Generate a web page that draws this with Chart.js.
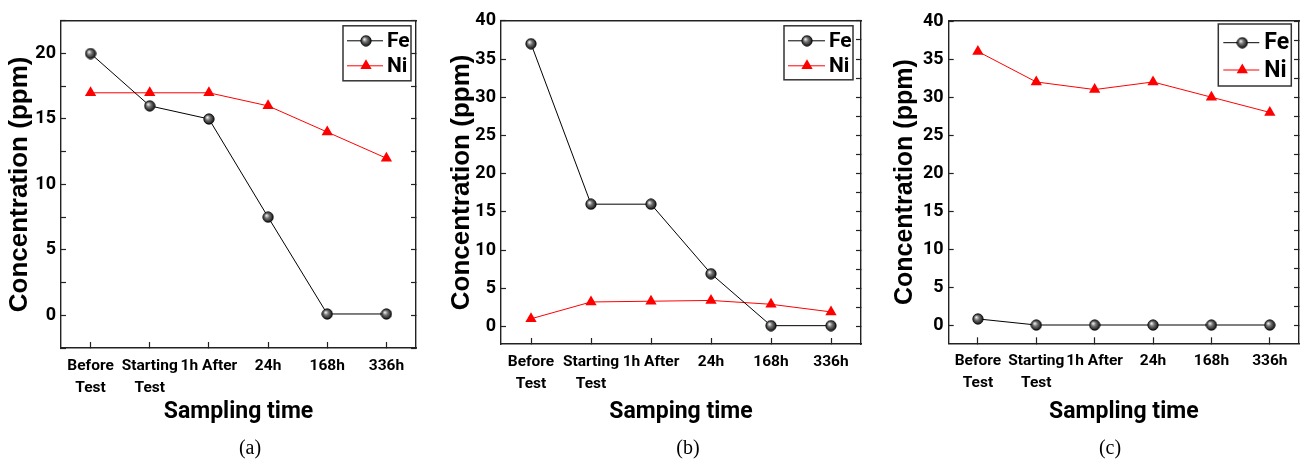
<!DOCTYPE html>
<html>
<head>
<meta charset="utf-8">
<script src="https://cdn.jsdelivr.net/npm/chart.js@4.4.1/dist/chart.umd.min.js"></script>
<style>
  body { margin: 0; background: #fff; width: 1306px; height: 461px; position: relative; overflow: hidden; }
  canvas { position: absolute; top: 0; }
  .cap { position: absolute; top: 435px; width: 60px; margin-left: -30px; text-align: center;
         font: 20px 'Liberation Serif', 'Times New Roman', serif; line-height: 24px; color: #000; }
</style>
</head>
<body>
<canvas id="panelA" width="430" height="461" style="left:0px"></canvas>
<canvas id="panelB" width="430" height="461" style="left:440px"></canvas>
<canvas id="panelC" width="426" height="461" style="left:880px"></canvas>
<div class="cap" id="capA" style="left:250px"></div>
<div class="cap" id="capB" style="left:688px"></div>
<div class="cap" id="capC" style="left:1110px"></div>
<script>
const NARROW = "Roboto, 'Liberation Sans', sans-serif";
const WIDE = "'Liberation Sans', Arial, sans-serif";

// data
const categories = [['Before', 'Test'], ['Starting', 'Test'], '1h After', '24h', '168h', '336h'];
const seriesNames = ['Fe', 'Ni'];
const feA = [20, 16, 15, 7.5, 0.1, 0.1];
const niA = [17, 17, 17, 16, 14, 12];
const feB = [37, 16, 16, 6.9, 0.1, 0.1];
const niB = [1.0, 3.2, 3.3, 3.4, 2.9, 1.9];
const feC = [0.9, 0.1, 0.1, 0.1, 0.1, 0.1];
const niC = [36, 32, 31, 32, 30, 28];
const yTicksA = [-2.5, 0, 2.5, 5, 7.5, 10, 12.5, 15, 17.5, 20, 22.5];
const yTicks40 = [0, 2.5, 5, 7.5, 10, 12.5, 15, 17.5, 20, 22.5, 25, 27.5, 30, 32.5, 35, 37.5, 40];
const yTitle = 'Concentration (ppm)';
const xTitles = ['Sampling time', 'Samping time', 'Sampling time'];
const captions = ['(a)', '(b)', '(c)'];

// shaded sphere used as the Fe marker
const sphere = document.createElement('canvas');
sphere.width = 12; sphere.height = 12;
(function () {
  const g = sphere.getContext('2d');
  const grad = g.createRadialGradient(4.3, 4.3, 0.3, 6, 6, 6);
  grad.addColorStop(0, '#f0f0f0');
  grad.addColorStop(0.35, '#777');
  grad.addColorStop(1, '#000');
  g.beginPath();
  g.arc(6, 6, 5.2, 0, Math.PI * 2);
  g.fillStyle = grad;
  g.fill();
  g.lineWidth = 0.8;
  g.strokeStyle = '#000';
  g.stroke();
})();

// boxed legend inside the plot, top right
const boxLegend = {
  id: 'boxLegend',
  afterDatasetsDraw(chart, args, o) {
    const { ctx, chartArea } = chart;
    const x0 = chartArea.right - o.right - o.width;
    const y0 = chartArea.top + o.top;
    ctx.save();
    ctx.fillStyle = '#fff';
    ctx.fillRect(x0, y0, o.width, o.height);
    ctx.lineWidth = 1.5;
    ctx.strokeStyle = '#333';
    ctx.strokeRect(x0, y0, o.width, o.height);
    chart.data.datasets.forEach((ds, i) => {
      const y = y0 + o.rows[i];
      ctx.strokeStyle = ds.borderColor;
      ctx.lineWidth = 1;
      ctx.beginPath();
      ctx.moveTo(x0 + o.lineX, y);
      ctx.lineTo(x0 + o.lineX + o.lineLen, y);
      ctx.stroke();
      const mx = x0 + o.markX;
      if (ds.pointStyle === 'triangle') {
        const r = ds.pointRadius;
        ctx.fillStyle = ds.pointBackgroundColor;
        ctx.beginPath();
        ctx.moveTo(mx, y - r);
        ctx.lineTo(mx + r * Math.sin(Math.PI * 2 / 3), y - r * Math.cos(Math.PI * 2 / 3));
        ctx.lineTo(mx + r * Math.sin(Math.PI * 4 / 3), y - r * Math.cos(Math.PI * 4 / 3));
        ctx.closePath();
        ctx.fill();
      } else {
        ctx.drawImage(sphere, mx - 6, y - 6);
      }
      ctx.fillStyle = '#000';
      ctx.font = 'bold ' + o.fontSize + 'px ' + NARROW;
      ctx.textAlign = 'left';
      ctx.textBaseline = 'middle';
      ctx.fillText(ds.label, x0 + o.textX, y + 1);
    });
    ctx.restore();
  }
};

function makePanel(id, fe, ni, yMin, yMax, yTicks, xTitle, L) {
  const setTicks = s => { s.ticks = yTicks.map(v => ({ value: v })); };
  return new Chart(document.getElementById(id), {
    type: 'line',
    data: {
      labels: categories,
      datasets: [{
        label: seriesNames[0],
        data: fe,
        borderColor: '#000',
        borderWidth: 1,
        pointStyle: sphere,
        pointRadius: 6,
        pointBackgroundColor: '#000',
        tension: 0
      }, {
        label: seriesNames[1],
        data: ni,
        borderColor: '#ff0000',
        borderWidth: 1,
        pointStyle: 'triangle',
        pointRadius: 6.5,
        pointBackgroundColor: '#ff0000',
        pointBorderColor: '#ff0000',
        pointBorderWidth: 0,
        tension: 0
      }]
    },
    options: {
      responsive: false,
      animation: false,
      events: [],
      layout: { padding: { left: L.padL, top: L.padT, right: L.padR, bottom: L.padB } },
      scales: {
        x: {
          type: 'category',
          offset: true,
          grid: { drawOnChartArea: false, tickLength: -6, color: '#222', tickWidth: 1.2 },
          border: { color: '#222', width: 1.4 },
          ticks: {
            color: '#000', padding: 12.5, autoSkip: false, maxRotation: 0, minRotation: 0,
            font: { family: NARROW, size: 15.5, weight: 'bold', lineHeight: 1.45 }
          },
          title: {
            display: true, text: xTitle, color: '#000', padding: 0,
            font: { family: NARROW, size: 23, weight: 'bold', lineHeight: 1.2 }
          },
          afterFit: s => { s.height = L.xH; }
        },
        xTop: {
          type: 'category',
          position: 'top',
          offset: true,
          grid: { display: false },
          ticks: { display: false },
          border: { color: '#222', width: 1.4 },
          afterFit: s => { s.height = 0; }
        },
        y: {
          min: yMin, max: yMax,
          afterBuildTicks: setTicks,
          grid: { drawOnChartArea: false, tickLength: -5, color: '#222', tickWidth: 1.2 },
          border: { color: '#222', width: 1.4 },
          ticks: {
            color: '#000', padding: 10,
            font: { family: NARROW, size: 18, weight: 'bold', lineHeight: 1.2 },
            callback: v => (v % 5 === 0 ? v : '')
          },
          title: {
            display: true, text: yTitle, color: '#000', padding: 0,
            font: { family: WIDE, size: L.yTitleSize, weight: 'bold', lineHeight: 1.2 }
          },
          afterFit: s => { s.width = L.yW; }
        },
        yRight: {
          position: 'right',
          min: yMin, max: yMax,
          afterBuildTicks: setTicks,
          grid: { drawOnChartArea: false, tickLength: -5, color: '#222', tickWidth: 1.2 },
          border: { color: '#222', width: 1.4 },
          ticks: { display: false },
          afterFit: s => { s.width = 0; }
        }
      },
      plugins: {
        legend: { display: false },
        tooltip: { enabled: false },
        boxLegend: L.legend
      }
    },
    plugins: [boxLegend]
  });
}

makePanel('panelA', feA, niA, -2.5, 22.5, yTicksA, xTitles[0], {
  padL: 4, padT: 13, padR: 14, padB: 34.6, yW: 57, xH: 78.4, yTitleSize: 26,
  legend: { right: 5, top: 5, width: 68, height: 55, rows: [15, 40], lineX: 4, lineLen: 36, markX: 23, textX: 44, fontSize: 21 }
});
makePanel('panelB', feB, niB, -2.3, 40, yTicks40, xTitles[1], {
  padL: 6, padT: 12, padR: 9, padB: 34.6, yW: 55, xH: 82.4, yTitleSize: 26,
  legend: { right: 8, top: 5, width: 69, height: 54, rows: [15, 40], lineX: 4, lineLen: 37, markX: 23, textX: 45, fontSize: 21 }
});
makePanel('panelC', feC, niC, -2.3, 40, yTicks40, xTitles[2], {
  padL: 10, padT: 21, padR: 3.3, padB: 34.9, yW: 58.7, xH: 82.8, yTitleSize: 25,
  legend: { right: 7.7, top: 3, width: 73, height: 62, rows: [18.7, 46], lineX: 5, lineLen: 36, markX: 24, textX: 46, fontSize: 23 }
});

document.getElementById('capA').textContent = captions[0];
document.getElementById('capB').textContent = captions[1];
document.getElementById('capC').textContent = captions[2];
</script>
</body>
</html>
